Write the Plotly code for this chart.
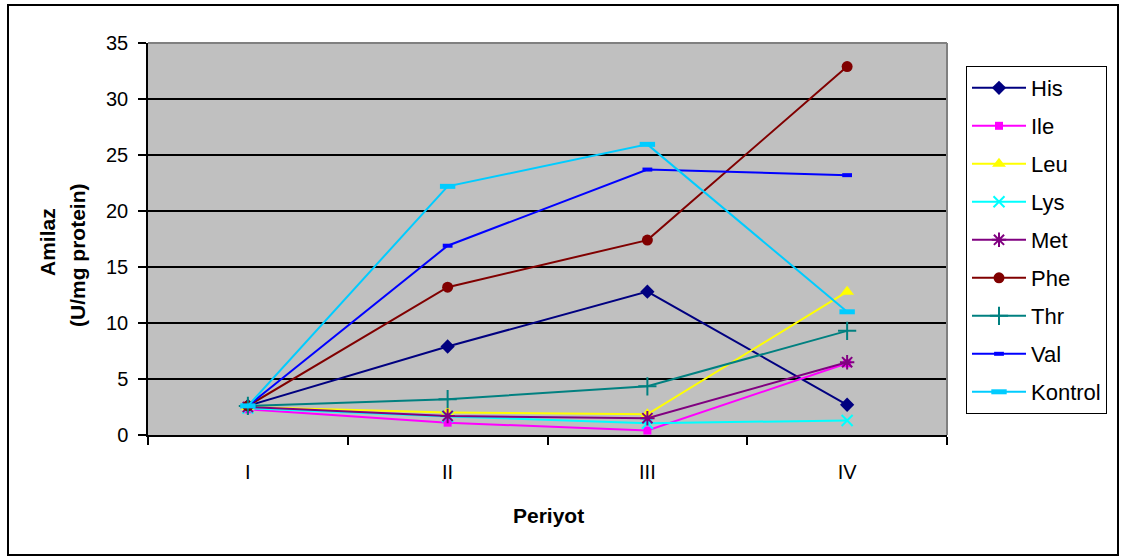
import plotly.graph_objects as go

# Sampling periods (x categories)
periods = ["I", "II", "III", "IV"]

# Amylase activity (U/mg protein) per amino acid treatment
his = [2.6, 7.9, 12.8, 2.7]
ile = [2.3, 1.1, 0.4, 6.4]
leu = [2.5, 2.0, 1.85, 12.8]
lys = [2.4, 1.65, 1.05, 1.3]
met = [2.5, 1.7, 1.5, 6.5]
phe = [2.6, 13.2, 17.4, 32.9]
thr = [2.6, 3.2, 4.35, 9.3]
val = [2.6, 16.9, 23.7, 23.2]
kontrol = [2.6, 22.2, 25.95, 11.0]

series = [
    ("His", his, "#000080", "diamond", 11, 0),
    ("Ile", ile, "#FF00FF", "square", 8, 0),
    ("Leu", leu, "#FFFF00", "triangle-up", 12, 0),
    ("Lys", lys, "#00FFFF", "x-thin", 11, 2),
    ("Met", met, "#800080", "asterisk", 12, 2),
    ("Phe", phe, "#800000", "circle", 11, 0),
    ("Thr", thr, "#008080", "cross-thin", 13, 2),
    ("Val", val, "#0000FF", "line-ew", 7, 4),
    ("Kontrol", kontrol, "#00CCFF", "line-ew", 11, 5),
]

FONT = "Liberation Sans, Arial, sans-serif"

fig = go.Figure()
for name, vals, color, sym, size, lw in series:
    marker = dict(symbol=sym, size=size, color=color,
                  line=dict(color=color, width=lw))
    fig.add_trace(go.Scatter(
        x=periods, y=vals, name=name, mode="lines+markers",
        line=dict(color=color, width=2),
        marker=marker, legendgroup=name,
    ))

# plot-area pixel box: x 148..947, y 43..435
L, R, T, B = 148, 947, 43, 435
W, H = R - L, B - T


def px(x):
    return (x - L) / W


def py(y):
    return (B - y) / H


fig.update_layout(
    width=1122, height=559,
    margin=dict(l=L, r=1122 - R, t=T, b=559 - B),
    paper_bgcolor="white",
    plot_bgcolor="#C0C0C0",
    font=dict(family=FONT, size=20, color="black"),
    showlegend=True,
    legend=dict(
        x=px(966), y=py(66), xanchor="left", yanchor="top",
        bgcolor="white", bordercolor="black", borderwidth=1,
        font=dict(size=22), traceorder="grouped", tracegroupgap=6.4,
        itemwidth=54,
    ),
    xaxis=dict(
        type="category", tickson="boundaries", ticks="outside",
        ticklen=8, tickwidth=1.5, tickcolor="black",
        showline=True, linecolor="black", linewidth=1.5,
        showgrid=False, zeroline=False,
        tickfont=dict(size=20), ticklabelstandoff=18,
        range=[-0.5, 3.5],
    ),
    yaxis=dict(
        range=[0, 35], dtick=5, ticks="outside", ticklen=8,
        tickwidth=1.5, tickcolor="black",
        showline=True, linecolor="black", linewidth=1.5,
        showgrid=True, gridcolor="black", gridwidth=1.5,
        zeroline=False, tickfont=dict(size=20), ticklabelstandoff=6,
    ),
    shapes=[
        # outer chart frame
        dict(type="rect", xref="paper", yref="paper",
             x0=px(8), x1=px(1118), y0=py(555), y1=py(5),
             line=dict(color="black", width=2), layer="above"),
        # grey top and right edges of the plot area
        dict(type="line", xref="paper", yref="paper",
             x0=0, x1=1, y0=1, y1=1,
             line=dict(color="#808080", width=2)),
        dict(type="line", xref="paper", yref="paper",
             x0=1, x1=1, y0=0, y1=1,
             line=dict(color="#808080", width=2)),
    ],
    annotations=[
        dict(text="<b>Amilaz</b>", xref="paper", yref="paper",
             x=px(47), y=py(242), textangle=-90, showarrow=False,
             xanchor="center", yanchor="middle", font=dict(size=21)),
        dict(text="<b>(U/mg protein)</b>", xref="paper", yref="paper",
             x=px(77), y=py(256), textangle=-90, showarrow=False,
             xanchor="center", yanchor="middle", font=dict(size=21)),
        dict(text="<b>Periyot</b>", xref="paper", yref="paper",
             x=px(548), y=py(515), showarrow=False,
             xanchor="center", yanchor="middle", font=dict(size=21)),
    ],
)

fig.write_html("out.html")
